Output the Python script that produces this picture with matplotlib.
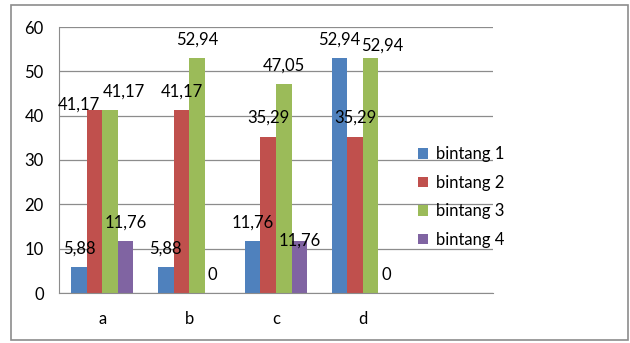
import numpy as np
import matplotlib
matplotlib.use('Agg')
import matplotlib.pyplot as plt
from matplotlib.patches import Rectangle

# Data
categories = ['a', 'b', 'c', 'd', '']
series_names = ['bintang 1', 'bintang 2', 'bintang 3', 'bintang 4']
bintang1 = [5.88, 5.88, 11.76, 52.94]
bintang2 = [41.17, 41.17, 35.29, 35.29]
bintang3 = [41.17, 52.94, 47.05, 52.94]
bintang4 = [11.76, 0, 11.76, 0]
yticks = [0, 10, 20, 30, 40, 50, 60]

COLORS = ['#4F81BD', '#C0504D', '#9BBB59', '#8064A2']
FONT = 'Lato'
FS = 12

# label nudges (pixels, dx, dy of label centre above bar top) where Excel moved them
NUDGE = {(1, 0): (-16, 6), (2, 0): (14, 19), (3, 2): (0, 0), (2, 3): (12, 13)}

plt.rcParams['font.family'] = [FONT, 'DejaVu Sans']

fig = plt.figure(figsize=(6.3, 3.43), dpi=100)
fig.patches.append(Rectangle((11 / 630, 3 / 343), 617 / 630, 335 / 343,
                             transform=fig.transFigure, fill=False,
                             edgecolor='#8c8c8c', linewidth=1.2))

ax = fig.add_axes([59 / 630, 1 - 293 / 343, 434 / 630, 266 / 343])

x = np.arange(len(categories))
bw = 0.179
for i, vals in enumerate([bintang1, bintang2, bintang3, bintang4]):
    xs = x[:len(vals)] + (i - 1.5) * bw
    ax.bar(xs, vals, width=bw, color=COLORS[i], label=series_names[i], zorder=2)
    for j, (xx, v) in enumerate(zip(xs, vals)):
        txt = ('%.2f' % v).replace('.', ',') if v != 0 else '0'
        dx, dy = NUDGE.get((i, j), (0, 18.5))
        ax.annotate(txt, (xx, v), xytext=(dx * 0.72, dy * 0.72),
                    textcoords='offset points', ha='center', va='center',
                    fontsize=FS, zorder=3)

ax.set_xlim(-0.5, len(categories) - 0.5)
ax.set_ylim(0, 60)
ax.set_yticks(yticks)
ax.set_xticks(x)
ax.set_xticklabels(categories)
ax.yaxis.grid(True, color='#8c8c8c', linewidth=0.9, zorder=0)
ax.set_axisbelow(True)
for s in ['top', 'right']:
    ax.spines[s].set_visible(False)
ax.spines['left'].set_color('#8c8c8c')
ax.spines['bottom'].set_color('#8c8c8c')
ax.tick_params(axis='both', length=0, labelsize=FS)
ax.tick_params(axis='y', pad=11)
ax.tick_params(axis='x', pad=13)

fig.legend(loc='center left', bbox_to_anchor=(418 / 630, 1 - 197 / 343),
           frameon=False, fontsize=FS, handlelength=0.6, handleheight=0.6,
           handletextpad=0.45, labelspacing=0.75, borderaxespad=0,
           borderpad=0)

fig.savefig('out.png', dpi=100)
